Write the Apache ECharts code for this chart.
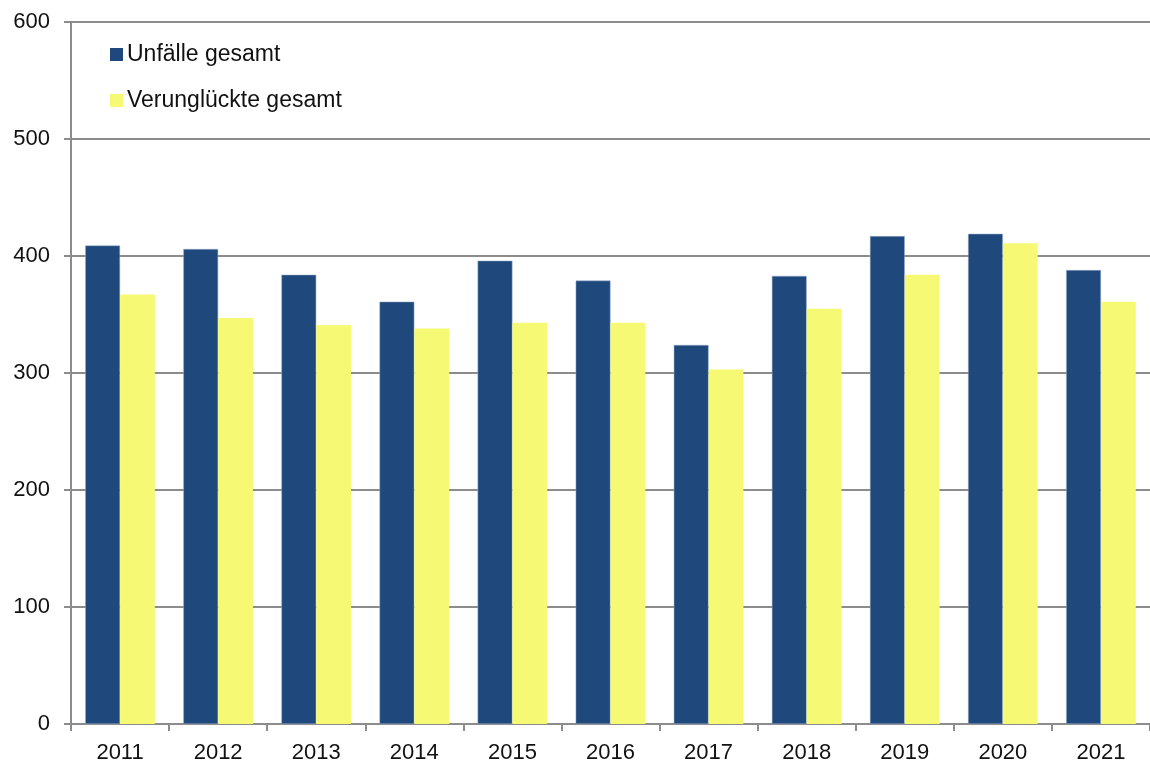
<!DOCTYPE html>
<html><head><meta charset="utf-8">
<script src="https://cdn.jsdelivr.net/npm/echarts@6/dist/echarts.min.js"></script>
<style>html,body{margin:0;padding:0;background:#fff}#c{width:1150px;height:765px}</style>
</head><body><div id="c"></div>
<script>
const years = ['2011','2012','2013','2014','2015','2016','2017','2018','2019','2020','2021'];
const unfaelle = [409,406,384,361,396,379,324,383,417,419,388];
const verunglueckte = [367,347,341,338,343,343,303,355,384,411,361];
const seriesNames = ['Unfälle gesamt','Verunglückte gesamt'];

const chart = echarts.init(document.getElementById('c'));
chart.setOption({
  animation:false,
  textStyle:{fontFamily:'Liberation Sans, Arial, sans-serif'},
  grid:{left:71,right:0,top:22,bottom:41},
  legend:{orient:'vertical',left:105,top:38,itemWidth:13,itemHeight:13,itemGap:23,
    icon:'rect',itemStyle:{borderWidth:0},
    textStyle:{fontSize:23,color:'#111',padding:[0,0,0,-1]},data:seriesNames},
  xAxis:{type:'category',data:years,
    axisLine:{lineStyle:{color:'#8c8c8c',width:2}},
    axisTick:{show:true,length:7,lineStyle:{color:'#8c8c8c',width:2}},
    axisLabel:{fontSize:22,color:'#111',margin:18}},
  yAxis:{type:'value',min:0,max:600,interval:100,
    axisLine:{show:true,lineStyle:{color:'#8c8c8c',width:2}},
    axisTick:{show:true,length:7,lineStyle:{color:'#8c8c8c',width:2}},
    splitLine:{lineStyle:{color:'#8c8c8c',width:2}},
    axisLabel:{fontSize:22,color:'#111',margin:21}},
  series:[
    {name:seriesNames[0],type:'bar',data:unfaelle,barGap:'0%',barCategoryGap:'29%',
     itemStyle:{color:'#1f497d',borderColor:'#9fb3cf',borderWidth:0.5}},
    {name:seriesNames[1],type:'bar',data:verunglueckte,
     itemStyle:{color:'#f6f974'}}
  ]
});
</script></body></html>
